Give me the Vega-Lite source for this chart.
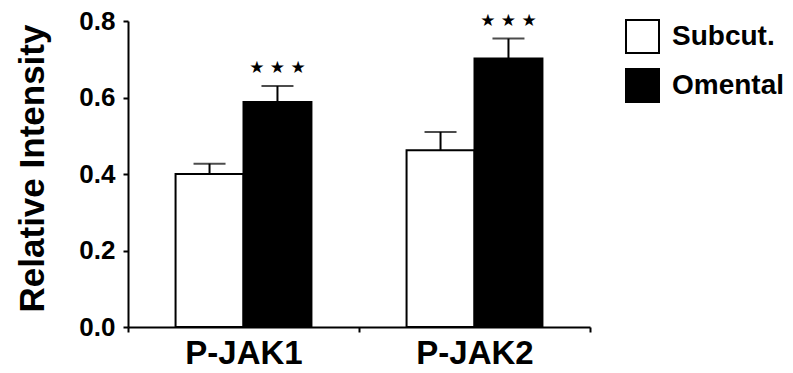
{
  "$schema": "https://vega.github.io/schema/vega-lite/v6.json",
  "width": 462,
  "height": 306,
  "autosize": {"type": "none"},
  "padding": {"left": 128, "top": 21, "right": 203, "bottom": 46},
  "background": "white",
  "config": {
    "view": {"stroke": null},
    "font": "Liberation Sans",
    "axis": {
      "domainColor": "black",
      "domainWidth": 2,
      "tickColor": "black",
      "tickWidth": 2,
      "tickSize": 5,
      "grid": false,
      "labelFont": "Liberation Sans",
      "labelFontWeight": "bold",
      "labelColor": "black",
      "titleFont": "Liberation Sans",
      "titleFontWeight": "bold",
      "titleColor": "black"
    }
  },
  "data": {
    "values": [
      {"target": "P-JAK1", "group": "Subcut.", "value": 0.4, "upper": 0.427, "sig": ""},
      {"target": "P-JAK1", "group": "Omental", "value": 0.588, "upper": 0.63, "sig": "★ ★ ★"},
      {"target": "P-JAK2", "group": "Subcut.", "value": 0.462, "upper": 0.51, "sig": ""},
      {"target": "P-JAK2", "group": "Omental", "value": 0.702, "upper": 0.754, "sig": "★ ★ ★"}
    ]
  },
  "encoding": {
    "x": {
      "field": "target",
      "type": "nominal",
      "scale": {"paddingInner": 0, "paddingOuter": 0},
      "axis": {"title": null, "labelAngle": 0, "labelFontSize": 33, "tickBand": "extent", "labelPadding": 5}
    },
    "xOffset": {
      "field": "group",
      "type": "nominal",
      "sort": ["Subcut.", "Omental"],
      "scale": {"paddingInner": 0, "paddingOuter": 0.7}
    }
  },
  "layer": [
    {
      "mark": {"type": "rule", "color": "black", "strokeWidth": 2},
      "encoding": {
        "y": {"field": "value", "type": "quantitative"},
        "y2": {"field": "upper"}
      }
    },
    {
      "mark": {"type": "tick", "color": "black", "size": 32, "thickness": 2, "orient": "horizontal"},
      "encoding": {
        "y": {"field": "upper", "type": "quantitative"}
      }
    },
    {
      "mark": {"type": "bar", "stroke": "black", "strokeWidth": 2},
      "encoding": {
        "y": {
          "field": "value",
          "type": "quantitative",
          "scale": {"domain": [0, 0.8], "nice": false},
          "axis": {
            "values": [0, 0.2, 0.4, 0.6, 0.8],
            "format": ".1f",
            "labelFontSize": 26,
            "labelPadding": 8,
            "title": "Relative Intensity",
            "titleFontSize": 35,
            "titleAngle": 270,
            "titleAlign": "center",
            "titleBaseline": "alphabetic",
            "titleX": -85,
            "titleY": 147
          }
        },
        "fill": {
          "field": "group",
          "type": "nominal",
          "sort": ["Subcut.", "Omental"],
          "scale": {"domain": ["Subcut.", "Omental"], "range": ["white", "black"]},
          "legend": {
            "title": null,
            "orient": "none",
            "legendX": 497,
            "legendY": -2,
            "symbolType": "square",
            "symbolSize": 1089,
            "symbolStrokeColor": "black",
            "symbolStrokeWidth": 2,
            "symbolOpacity": 1,
            "labelFontSize": 28,
            "labelFontWeight": "bold",
            "labelColor": "black",
            "labelFont": "Liberation Sans",
            "labelOffset": 12,
            "rowPadding": 8,
            "padding": 0
          }
        }
      }
    },
    {
      "mark": {"type": "text", "fontSize": 17, "dy": -18, "baseline": "middle", "color": "black", "font": "DejaVu Sans"},
      "encoding": {
        "y": {"field": "upper", "type": "quantitative"},
        "text": {"field": "sig"}
      }
    }
  ]
}
